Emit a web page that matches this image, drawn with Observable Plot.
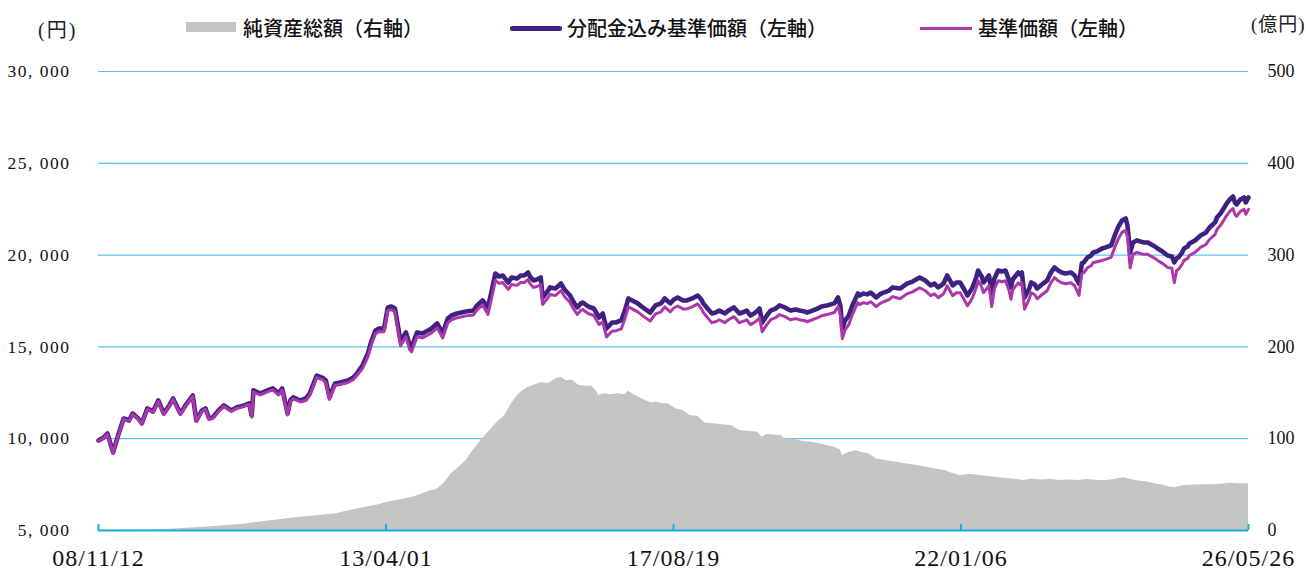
<!DOCTYPE html>
<html><head><meta charset="utf-8">
<script src="https://cdn.jsdelivr.net/npm/d3@7"></script>
<script src="https://cdn.jsdelivr.net/npm/@observablehq/plot@0.6"></script>
<style>
body{margin:0;background:#fff;}
#wrap{position:relative;width:1306px;height:570px;overflow:hidden;font-family:"Noto Sans CJK JP","Noto Sans",sans-serif;}
.unit{position:absolute;font-family:"Liberation Serif","Noto Sans CJK JP",serif;font-size:20px;line-height:20px;color:#222;letter-spacing:2px;}
.sw{position:absolute;}
.lt{position:absolute;top:18px;font-size:20px;line-height:20px;font-weight:500;color:#111;white-space:nowrap;}
#chart{position:absolute;left:0;top:50px;}
</style>
</head><body>
<div id="wrap">
  <div class="unit" id="uL" style="left:38px;top:20px;"></div>
  <div class="sw" id="sw0" style="left:186px;top:22px;width:50px;height:10px;"></div>
  <div class="lt" id="lt0" style="left:243px;"></div>
  <div class="sw" id="sw1" style="left:510px;top:26px;width:52px;height:5px;border-radius:2px;"></div>
  <div class="lt" id="lt1" style="left:567px;"></div>
  <div class="sw" id="sw2" style="left:920px;top:27px;width:52px;height:3px;"></div>
  <div class="lt" id="lt2" style="left:978px;"></div>
  <div class="unit" id="uR" style="left:1251px;top:15px;letter-spacing:1px;font-size:19px;"></div>
  <div id="chart"></div>
</div>
<script>
// ---- data ----
const priceDates = [
"2008-11-12","2008-12-11","2009-01-01","2009-02-01","2009-03-01","2009-04-01","2009-05-01","2009-05-21","2009-06-21","2009-07-11",
"2009-08-11","2009-09-11","2009-10-11","2009-11-11","2009-12-11","2010-01-01","2010-02-11","2010-03-11","2010-04-21","2010-05-11",
"2010-06-11","2010-07-01","2010-07-21","2010-08-11","2010-09-11","2010-10-11","2010-11-21","2010-12-21","2011-02-01","2011-03-01",
"2011-03-15","2011-03-25","2011-05-01","2011-06-11","2011-07-11","2011-08-11","2011-09-01","2011-10-01","2011-10-16","2011-11-01",
"2011-12-11","2012-01-11","2012-02-01","2012-03-11","2012-04-11","2012-05-01","2012-05-21","2012-06-21","2012-07-21","2012-09-01",
"2012-10-01","2012-10-21","2012-11-21","2012-12-21","2013-01-11","2013-02-01","2013-02-21","2013-03-21","2013-04-11","2013-05-01",
"2013-05-21","2013-06-21","2013-07-21","2013-08-11","2013-08-21","2013-09-21","2013-10-21","2013-11-21","2013-12-11","2014-01-11",
"2014-02-11","2014-03-11","2014-04-01","2014-05-01","2014-06-21","2014-08-01","2014-08-21","2014-09-21","2014-10-21","2014-11-11",
"2014-12-01","2014-12-21","2015-01-11","2015-02-11","2015-03-01","2015-04-01","2015-04-21","2015-05-11","2015-06-01","2015-06-11",
"2015-07-01","2015-07-21","2015-08-11","2015-08-21","2015-09-21","2015-10-01","2015-11-01","2015-12-01","2015-12-21","2016-01-21",
"2016-02-11","2016-03-01","2016-03-21","2016-04-01","2016-05-01","2016-06-01","2016-07-01","2016-07-21","2016-08-11","2016-09-11",
"2016-10-01","2016-11-01","2016-11-21","2016-12-11","2017-01-01","2017-02-01","2017-03-01","2017-04-11","2017-05-11","2017-06-11",
"2017-07-01","2017-08-01","2017-08-21","2017-09-11","2017-10-11","2017-11-01","2017-12-01","2018-01-01","2018-01-21","2018-02-01",
"2018-03-01","2018-03-21","2018-04-11","2018-05-01","2018-06-01","2018-06-21","2018-07-21","2018-08-11","2018-08-21","2018-09-21",
"2018-10-01","2018-10-21","2018-11-11","2018-12-01","2018-12-11","2018-12-26","2019-01-21","2019-02-11","2019-03-11","2019-04-01",
"2019-05-01","2019-06-01","2019-07-01","2019-07-21","2019-08-21","2019-09-01","2019-10-01","2019-11-01","2019-11-21","2019-12-21",
"2020-02-01","2020-02-11","2020-02-21","2020-03-05","2020-03-16","2020-04-01","2020-04-21","2020-05-11","2020-06-11","2020-06-21",
"2020-07-11","2020-08-01","2020-08-21","2020-09-21","2020-10-11","2020-11-01","2020-12-01","2020-12-21","2021-02-01","2021-03-11",
"2021-04-11","2021-05-21","2021-06-21","2021-07-21","2021-08-11","2021-09-01","2021-10-01","2021-10-21","2021-11-21","2021-12-11",
"2022-01-01","2022-01-21","2022-02-11","2022-03-01","2022-03-11","2022-04-01","2022-04-11","2022-05-01","2022-05-11","2022-06-11",
"2022-06-26","2022-07-11","2022-08-01","2022-08-21","2022-09-11","2022-10-01","2022-10-11","2022-10-21","2022-11-21","2022-12-01",
"2022-12-11","2022-12-26","2023-01-21","2023-02-01","2023-02-21","2023-03-06","2023-04-01","2023-05-01","2023-05-21","2023-06-11",
"2023-07-01","2023-07-21","2023-08-11","2023-09-11","2023-10-01","2023-10-25","2023-11-10","2023-11-21","2023-12-11","2024-01-01",
"2024-01-11","2024-02-01","2024-03-01","2024-03-21","2024-04-21","2024-05-01","2024-05-11","2024-06-01","2024-06-21","2024-07-11",
"2024-07-21","2024-08-05","2024-08-21","2024-09-11","2024-10-01","2024-10-21","2024-11-11","2024-11-21","2024-12-21","2025-01-05",
"2025-02-01","2025-03-01","2025-03-25","2025-04-08","2025-04-21","2025-05-01","2025-05-21","2025-06-01","2025-06-21","2025-07-01",
"2025-08-01","2025-09-01","2025-10-01","2025-10-21","2025-11-21","2025-12-01","2025-12-21","2026-01-11","2026-01-21","2026-02-11",
"2026-03-01","2026-03-11","2026-03-21","2026-04-11","2026-05-01","2026-05-11","2026-05-26"
];
// 分配金込み基準価額（円）
const adjPrice = [
9900,10070,10280,9250,10170,11100,10990,11370,11100,10830,
11650,11480,12080,11370,11810,12190,11370,11810,12350,10990,
11540,11650,11100,11160,11540,11810,11540,11700,11810,11920,
11260,12630,12460,12630,12740,12460,12740,11370,12080,12250,
12080,12190,12460,13440,13330,13170,12250,13010,13060,13170,
13330,13550,13990,14640,15350,15890,16000,16000,17150,17200,
17090,15300,15790,15080,14970,15790,15730,15890,16000,16280,
15730,16550,16710,16820,16930,16980,17260,17530,17150,18070,
19000,18840,18890,18510,18780,18730,18890,18890,19050,18840,
18620,18670,18780,17690,18070,18240,18180,18450,18130,17800,
17420,17150,17370,17420,17200,17090,16600,16820,16000,16330,
16330,16440,16980,17640,17530,17370,17150,16870,17260,17370,
17640,17370,17580,17690,17530,17530,17640,17800,17580,17370,
17040,16820,16870,16980,16820,16980,17150,16930,16820,16930,
16980,16710,16820,16980,17090,16330,16710,16980,17090,17260,
17150,16980,17040,16980,16930,16870,16980,17090,17200,17260,
17370,17530,17690,17260,16000,16440,16710,17260,17910,17800,
17910,17860,17960,17690,17860,17960,18070,18240,18180,18450,
18560,18780,18620,18350,18450,18240,18450,18890,18350,18510,
18510,18180,17800,18070,18240,18780,19160,18840,18510,18890,
17910,18730,19160,19110,19160,18620,18240,18670,19050,18950,
19050,17690,18180,18510,18400,18180,18400,18620,19050,19330,
19160,19050,19000,19050,18890,18450,19550,19600,19870,19980,
20140,20200,20360,20420,20530,20800,21070,21560,21890,22000,
21610,20140,20690,20800,20740,20690,20690,20630,20470,20360,
20200,19980,19930,19600,19820,19870,20140,20360,20470,20630,
20800,21070,21230,21500,21780,22050,22270,22590,22760,23030,
23190,22870,22760,23030,23140,22870,23140
];
// 基準価額（円）
const basePrice = [
9870,10040,10250,9220,10140,11070,10960,11340,11070,10800,
11620,11430,12030,11320,11760,12140,11320,11760,12300,10940,
11490,11600,11050,11110,11490,11760,11490,11650,11760,11870,
11180,12550,12380,12550,12660,12380,12660,11290,12000,12170,
12000,12080,12350,13330,13220,13060,12140,12900,12950,13060,
13220,13440,13820,14470,15180,15720,15830,15830,16980,17030,
16920,15060,15550,14840,14730,15550,15490,15650,15760,16040,
15490,16310,16470,16580,16690,16740,17020,17290,16770,17690,
18620,18460,18510,18130,18400,18350,18510,18510,18670,18460,
18240,18290,18400,17310,17690,17860,17800,18070,17750,17420,
17040,16770,16990,17040,16820,16710,16220,16360,15540,15870,
15870,15980,16520,17180,17070,16910,16690,16410,16800,16910,
17180,16910,17120,17230,17070,17070,17180,17340,17080,16870,
16540,16320,16370,16480,16320,16480,16650,16430,16320,16430,
16480,16210,16320,16480,16590,15830,16210,16480,16590,16760,
16650,16480,16540,16480,16430,16370,16480,16590,16700,16760,
16870,17030,17190,16760,15450,15940,16210,16760,17410,17300,
17410,17360,17460,17190,17360,17460,17570,17740,17620,17890,
18000,18220,18060,17790,17890,17680,17890,18330,17790,17950,
17950,17620,17240,17510,17680,18220,18600,18280,17950,18330,
17200,18170,18600,18550,18600,18060,17600,18110,18490,18390,
18490,17050,17620,17950,17840,17620,17840,18060,18490,18770,
18600,18490,18440,18490,18330,17800,18990,19040,19310,19420,
19580,19640,19710,19770,19880,20150,20420,20910,21240,21350,
20960,19300,20040,20150,20090,20040,20040,19980,19820,19710,
19550,19330,19280,18500,19170,19220,19490,19710,19820,19980,
20150,20420,20580,20850,21130,21400,21620,21940,22110,22380,
22540,22220,22110,22380,22490,22220,22490
];
// 純資産総額（億円）
const aumDates = [
"2008-11-12","2009-05-11","2009-11-21","2010-06-21","2011-01-11","2011-08-11","2011-12-11","2012-03-11","2012-06-21","2012-10-01",
"2012-12-21","2013-02-21","2013-04-11","2013-06-11","2013-09-11","2013-12-01","2014-01-11","2014-02-21","2014-04-01","2014-05-11",
"2014-06-21","2014-08-01","2014-09-11","2014-11-01","2014-12-11","2015-01-21","2015-03-01","2015-04-11","2015-06-01","2015-07-01",
"2015-08-11","2015-09-21","2015-11-01","2015-12-01","2016-01-01","2016-02-01","2016-03-11","2016-04-21","2016-05-21","2016-06-15",
"2016-06-28","2016-08-01","2016-09-01","2016-10-11","2016-11-21","2016-12-11","2017-01-11","2017-02-11","2017-03-11","2017-04-21",
"2017-05-11","2017-06-21","2017-07-21","2017-09-01","2017-10-11","2017-11-21","2018-01-01","2018-02-11","2018-04-11","2018-06-01",
"2018-07-11","2018-08-21","2018-10-11","2018-12-01","2018-12-26","2019-01-21","2019-03-01","2019-04-11","2019-05-01","2019-07-01",
"2019-08-11","2019-10-01","2019-11-21","2020-02-01","2020-03-05","2020-03-16","2020-04-21","2020-06-01","2020-07-01","2020-08-11",
"2020-09-21","2020-11-21","2021-01-11","2021-03-11","2021-05-11","2021-07-21","2021-10-11","2021-11-21","2022-01-01","2022-02-21",
"2022-03-21","2022-05-21","2022-07-11","2022-09-01","2022-10-21","2022-12-21","2023-02-11","2023-03-21","2023-05-21","2023-07-11",
"2023-09-11","2023-10-21","2023-12-11","2024-02-11","2024-04-01","2024-05-21","2024-07-01","2024-08-11","2024-09-01","2024-11-01",
"2024-12-21","2025-02-11","2025-03-11","2025-04-11","2025-06-01","2025-08-01","2025-10-01","2025-11-01","2025-12-21","2026-02-11",
"2026-04-01","2026-05-11","2026-05-26"
];
const aumValues = [
0.3,0.5,1,3.6,6.5,11.6,14.5,16,18,22.5,
26,28,31,33,37,43,45,52,62,69,
76,88,98,109,118,125,138,149,156,158,
161,160,165,167,163,164,158,157,157,152,
147,149,148,149,148,152,148,145,142,139,
140,138,138,132.5,130.7,125,124.5,117,116,115,
114,109,108,107,101.6,104.6,104,103.5,100,99,
97,96,94,90.7,88,81.7,85,87,85,83.5,
78,76,74.4,72.5,70.8,68,65,62,60,61,
60.7,59,58,57,56,54.5,56,55,55.5,54.5,
55,54.5,55.5,54.5,54.5,56,57.4,55.5,54.5,53,
50.8,49,47.5,46.5,49,49.5,49.8,49.8,50.5,51.5,
51,51,50.8
];
const leftTicks = [5000, 10000, 15000, 20000, 25000, 30000];
const rightTickLabels = ["0", "100", "200", "300", "400", "500"];
const xTickDates = ["2008-11-12", "2013-04-01", "2017-08-19", "2022-01-06", "2026-05-26"];
const xTickLabels = ["08/11/12", "13/04/01", "17/08/19", "22/01/06", "26/05/26"];
const seriesNames = ["純資産総額（右軸）", "分配金込み基準価額（左軸）", "基準価額（左軸）"];
const seriesColors = ["#c4c4c4", "#3f2181", "#ab37ab"];
const unitLeft = "(円)", unitRight = "(億円)";

// ---- build ----
const price = priceDates.map((d, i) => ({date: new Date(d), adj: adjPrice[i], base: basePrice[i]}));
const aum = aumDates.map((d, i) => ({date: new Date(d), v: aumValues[i]}));
// right axis 0–500 億円 shares the frame with left axis 5,000–30,000 円
const r2l = v => 5000 + v * 50;
const gridColor = "#5bc5ee", baseColor = "#18aee6";
const xt = xTickDates.map(d => new Date(d));

const chart = Plot.plot({
  width: 1306, height: 520,
  marginTop: 21, marginBottom: 40, marginLeft: 98, marginRight: 58,
  style: {background: "transparent", overflow: "visible", color: "#111"},
  x: {type: "utc", domain: [xt[0], xt[xt.length - 1]], label: null},
  y: {domain: [5000, 30000], label: null},
  marks: [
    Plot.ruleY(leftTicks.slice(1), {stroke: gridColor, strokeWidth: 1.2}),
    Plot.areaY(aum, {x: "date", y1: 5000, y2: d => r2l(d.v), fill: seriesColors[0]}),
    Plot.ruleY([5000], {stroke: baseColor, strokeWidth: 2}),
    Plot.lineY(price, {x: "date", y: "adj", stroke: seriesColors[1], strokeWidth: 4.6, strokeLinejoin: "round"}),
    Plot.lineY(price, {x: "date", y: "base", stroke: seriesColors[2], strokeWidth: 3, strokeLinejoin: "round"}),
    Plot.axisX(xt, {anchor: "bottom", tickSize: -6, tickPadding: 24, stroke: baseColor, strokeWidth: 2, fill: "#111",
      tickFormat: d => xTickLabels[xt.findIndex(t => +t === +d)],
      fontSize: 24, fontFamily: "'Liberation Serif', serif"}),
    Plot.axisY(leftTicks, {anchor: "left", tickSize: 0, tickPadding: 28, fill: "#111",
      tickFormat: d => d3.format(",")(d).replace(",", ", "),
      fontSize: 17.5, fontFamily: "'Liberation Serif', serif"}),
    Plot.axisY(leftTicks, {anchor: "right", tickSize: 0, tickPadding: 19, fill: "#111",
      tickFormat: d => rightTickLabels[leftTicks.indexOf(d)],
      fontSize: 18, fontFamily: "'Liberation Serif', serif"})
  ]
});
chart.querySelectorAll('g[aria-label="x-axis tick label"] text').forEach(t => t.style.letterSpacing = "1px");
chart.querySelectorAll('g[aria-label="y-axis tick label"]').forEach(g => {
  if (g.getAttribute("text-anchor") === "end") g.querySelectorAll("text").forEach(t => t.style.letterSpacing = "1.5px");
});
document.getElementById("chart").appendChild(chart);

document.getElementById("uL").textContent = unitLeft;
document.getElementById("uR").textContent = unitRight;
for (let i = 0; i < 3; i++) {
  document.getElementById("sw" + i).style.background = seriesColors[i];
  document.getElementById("lt" + i).textContent = seriesNames[i];
}
</script>
</body></html>
